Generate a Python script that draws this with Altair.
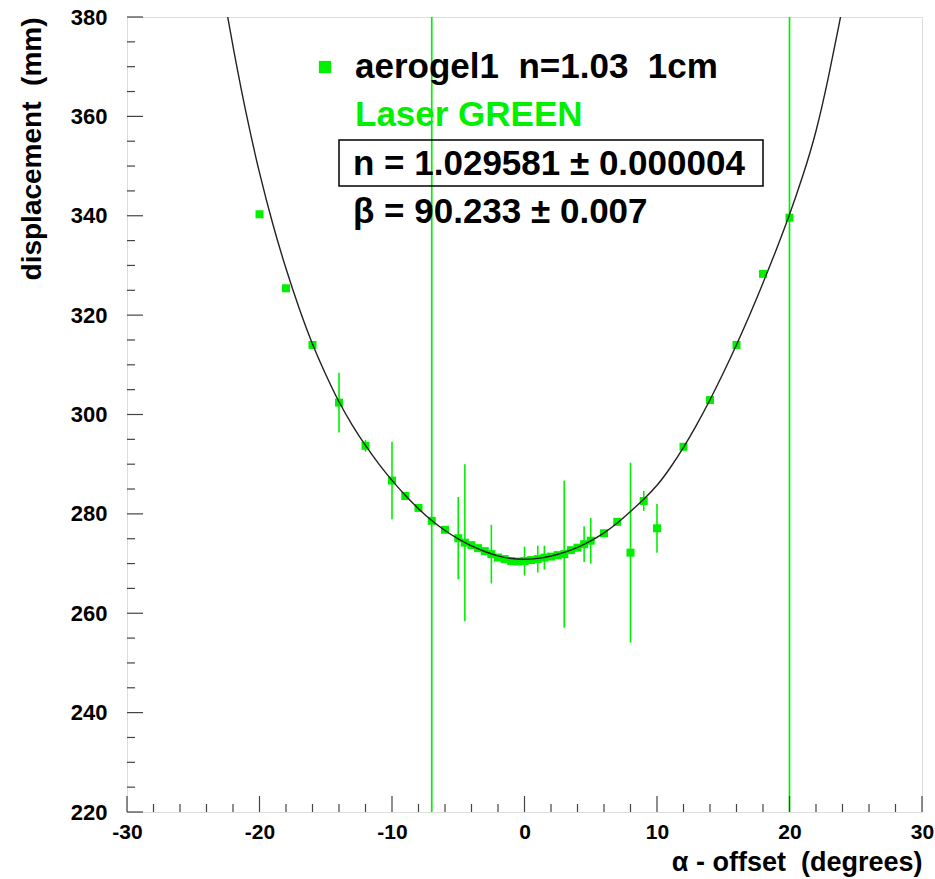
import altair as alt
import pandas as pd

# ---- data ----
alpha = [-20, -18, -16, -14, -12, -10, -9, -8, -7, -6, -5, -4.5, -4, -3.5, -3, -2.5, -2, -1.5,
         -1, -0.5, 0, 0.5, 1, 1.5, 2, 2.5, 3, 3.5, 4, 4.5, 5, 6, 7, 8, 9, 10, 12, 14, 16, 18, 20]
disp = [340.3, 325.4, 314.0, 302.4, 293.7, 286.7, 283.6, 281.2, 278.6, 276.8, 275.1, 274.2, 273.7,
        273.1, 272.5, 271.9, 271.2, 270.9, 270.5, 270.4, 270.5, 270.7, 270.9, 271.2, 271.4, 271.7,
        271.9, 272.7, 273.2, 273.9, 274.6, 276.1, 278.4, 272.2, 282.6, 277.1, 293.5, 302.9, 314.0,
        328.3, 339.6]
err = [0, 0, 0, 6.0, 1.2, 7.8, 0, 0, 0, 0, 8.3, 15.8, 0, 0, 0, 5.9, 0, 0, 0, 0, 2.9, 0, 2.7, 2.4,
       0, 0, 14.8, 0, 0, 3.6, 4.6, 0, 0, 18.1, 2.0, 4.9, 0, 0, 0, 0, 0]

# fitted curve
fit_x = [-22.4, -22, -21, -20, -19, -18, -17, -16, -15, -14, -13, -12, -11, -10, -9, -8, -7, -6,
         -5, -4, -3, -2, -1, 0, 1, 2, 3, 4, 5, 6, 7, 8, 9, 10, 11, 12, 13, 14, 15, 16, 17, 18,
         19, 20, 21, 22, 23, 23.85]
fit_y = [380.0, 374.0, 360.2, 348.4, 338.2, 329.2, 321.2, 314.0, 308.0, 302.4, 297.8, 293.7,
         290.0, 286.7, 283.7, 281.0, 278.6, 276.6, 274.9, 273.5, 272.4, 271.5, 270.95, 270.8,
         271.0, 271.5, 272.2, 273.2, 274.5, 276.1, 278.1, 280.5, 282.9, 285.6, 289.2, 293.3,
         297.9, 302.9, 308.3, 314.0, 320.0, 326.4, 333.1, 340.1, 347.9, 356.5, 368.5, 380.0]

cut_lines = [-7, 20]

x_major = [-30, -20, -10, 0, 10, 20, 30]
x_minor = [v for v in range(-28, 30, 2) if v % 10 != 0]
y_major = [220, 240, 260, 280, 300, 320, 340, 360, 380]
y_minor = [v for v in range(225, 380, 5) if v % 20 != 0]

SP = "\u00a0"
legend_label = "aerogel1" + SP * 2 + "n=1.03" + SP * 2 + "1cm"
laser_label = "Laser GREEN"
n_label = "n = 1.029581 \u00b1 0.000004"
beta_label = "\u03b2 = 90.233 \u00b1 0.007"
x_title = "\u03b1 - offset" + SP * 2 + "(degrees)"
y_title = "displacement" + SP * 2 + "(mm)"

# ---- layout ----
W, H = 795, 795
GREEN = "#00f000"
FONT = "Liberation Sans"

pts = pd.DataFrame({"alpha": alpha, "disp": disp, "err": err})
pts["lo"] = pts["disp"] - pts["err"]
pts["hi"] = pts["disp"] + pts["err"]
bars = pts[pts["err"] > 0]
fit = pd.DataFrame({"alpha": fit_x, "disp": fit_y})

xs = alt.Scale(domain=[-30, 30], nice=False, zero=False)
ys = alt.Scale(domain=[220, 380], nice=False, zero=False)

minus_fix = "replace(datum.label, '\u2212', '-')"

x_axis = alt.Axis(values=x_major, ticks=False, domain=False, grid=False, labelFont=FONT,
                  labelFontWeight="bold", labelFontSize=21, labelColor="black", labelPadding=9,
                  labelFlush=False, labelOverlap=False, labelExpr=minus_fix,
                  title=x_title, titleFont=FONT, titleFontSize=27,
                  titleFontWeight="bold", titleColor="black", titleAnchor="end", titleAlign="right",
                  titleBaseline="alphabetic", titleX=W, titleY=58)
y_axis = alt.Axis(values=y_major, ticks=False, domain=False, grid=False, labelFont=FONT,
                  labelFontWeight="bold", labelFontSize=22, labelColor="black", labelPadding=20,
                  labelFlush=False, labelOverlap=False,
                  title=y_title, titleFont=FONT, titleFontSize=28,
                  titleFontWeight="bold", titleColor="black", titleAngle=-90,
                  titleAlign="right", titleBaseline="alphabetic", titleX=-87, titleY=0)

base_x = alt.X("alpha:Q", scale=xs, axis=x_axis)
base_y = alt.Y("disp:Q", scale=ys, axis=y_axis)

points = alt.Chart(pts).mark_square(size=64, color=GREEN, opacity=1).encode(x=base_x, y=base_y)

errbars = alt.Chart(bars).mark_rule(color=GREEN, strokeWidth=1.6).encode(
    x=alt.X("alpha:Q", scale=xs), y=alt.Y("lo:Q", scale=ys), y2="hi:Q")

vlines = alt.Chart(pd.DataFrame({"alpha": cut_lines})).mark_rule(
    color=GREEN, strokeWidth=1.7).encode(x=alt.X("alpha:Q", scale=xs))

curve = alt.Chart(fit).mark_line(color="#222222", strokeWidth=1.4, interpolate="basis",
                                 clip=True).encode(x=alt.X("alpha:Q", scale=xs),
                                                   y=alt.Y("disp:Q", scale=ys))

TICK = "#444444"
xmaj = alt.Chart(pd.DataFrame({"t": x_major})).mark_rule(color=TICK, strokeWidth=1.2).encode(
    x=alt.X("t:Q", scale=xs), y=alt.value(H), y2=alt.value(H - 16))
xmin = alt.Chart(pd.DataFrame({"t": x_minor})).mark_rule(color=TICK, strokeWidth=1.2).encode(
    x=alt.X("t:Q", scale=xs), y=alt.value(H), y2=alt.value(H - 8))
ymaj = alt.Chart(pd.DataFrame({"t": y_major})).mark_rule(color=TICK, strokeWidth=1.2).encode(
    y=alt.Y("t:Q", scale=ys), x=alt.value(0), x2=alt.value(16))
ymin = alt.Chart(pd.DataFrame({"t": y_minor})).mark_rule(color=TICK, strokeWidth=1.2).encode(
    y=alt.Y("t:Q", scale=ys), x=alt.value(0), x2=alt.value(8))


def label(txt, px, py, color="black", size=35):
    return alt.Chart(pd.DataFrame({"t": [txt]})).mark_text(
        align="left", baseline="alphabetic", font=FONT, fontSize=size, fontWeight="bold",
        color=color).encode(text="t:N", x=alt.value(px), y=alt.value(py))


leg_sq = alt.Chart(pd.DataFrame({"t": [legend_label]})).mark_square(
    size=150, color=GREEN, opacity=1).encode(x=alt.value(198), y=alt.value(50))
box = alt.Chart(pd.DataFrame({"t": [n_label]})).mark_rect(
    fill="white", fillOpacity=0, stroke="black", strokeWidth=1.5).encode(
    x=alt.value(212), x2=alt.value(636), y=alt.value(123), y2=alt.value(169))

chart = alt.layer(
    points, vlines, errbars, curve, xmaj, xmin, ymaj, ymin,
    leg_sq,
    label(legend_label, 228, 61),
    label(laser_label, 228, 109, color=GREEN),
    box,
    label(n_label, 226, 158),
    label(beta_label, 226, 206),
).properties(
    width=W, height=H,
    autosize=alt.AutoSizeParams(type="none"),
    padding={"left": 127, "top": 17, "right": 13, "bottom": 67},
).configure_view(stroke="#333333", strokeWidth=1.5).configure(background="white")

chart.save("out.html", embed_options={"renderer": "svg", "actions": False})
